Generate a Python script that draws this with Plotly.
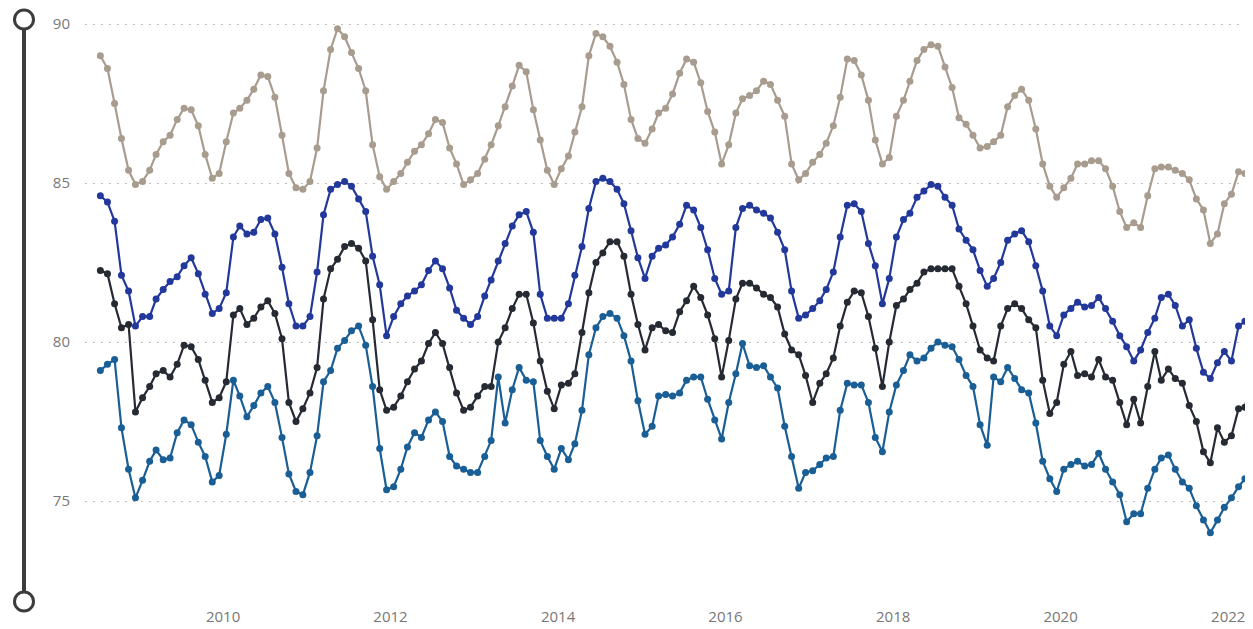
import pandas as pd
import plotly.graph_objects as go

# monthly readings, mid-month, Jul 2008 .. Apr 2022
months = pd.date_range("2008-07-01", periods=166, freq="MS") + pd.Timedelta(days=14)

tan_vals = [
    89.0, 88.6, 87.5, 86.4, 85.4, 84.95, 85.05, 85.4, 85.9, 86.3,
    86.5, 87.0, 87.35, 87.3, 86.8, 85.9, 85.15, 85.3, 86.3, 87.2,
    87.35, 87.6, 87.95, 88.4, 88.35, 87.7, 86.5, 85.3, 84.85, 84.8,
    85.05, 86.1, 87.9, 89.2, 89.85, 89.6, 89.1, 88.6, 87.9, 86.2,
    85.2, 84.8, 85.05, 85.3, 85.65, 86.0, 86.2, 86.55, 87.0, 86.9,
    86.1, 85.6, 84.95, 85.1, 85.3, 85.75, 86.2, 86.8, 87.4, 88.05,
    88.7, 88.5, 87.3, 86.35, 85.4, 84.95, 85.45, 85.85, 86.6, 87.4,
    89.0, 89.7, 89.6, 89.3, 88.8, 88.1, 87.0, 86.4, 86.25, 86.7,
    87.2, 87.35, 87.8, 88.45, 88.9, 88.8, 88.15, 87.25, 86.6, 85.6,
    86.2, 87.2, 87.65, 87.75, 87.9, 88.2, 88.1, 87.6, 87.1, 85.6,
    85.1, 85.3, 85.65, 85.9, 86.25, 86.8, 87.7, 88.9, 88.85, 88.4,
    87.6, 86.35, 85.6, 85.8, 87.1, 87.6, 88.2, 88.85, 89.2, 89.35,
    89.3, 88.65, 88.0, 87.05, 86.85, 86.5, 86.1, 86.15, 86.3, 86.5,
    87.4, 87.75, 87.95, 87.6, 86.7, 85.6, 84.9, 84.55, 84.85, 85.15,
    85.6, 85.6, 85.7, 85.7, 85.45, 84.9, 84.1, 83.6, 83.75, 83.6,
    84.6, 85.45, 85.5, 85.5, 85.4, 85.3, 85.1, 84.5, 84.15, 83.1,
    83.4, 84.35, 84.65, 85.35, 85.3, 85.75,
]

blue_vals = [
    84.6, 84.4, 83.8, 82.1, 81.6, 80.5, 80.8, 80.8, 81.35, 81.65,
    81.9, 82.05, 82.4, 82.65, 82.15, 81.5, 80.9, 81.05, 81.55, 83.3,
    83.65, 83.4, 83.45, 83.85, 83.9, 83.4, 82.35, 81.2, 80.5, 80.5,
    80.8, 82.2, 84.0, 84.8, 84.95, 85.05, 84.9, 84.5, 84.1, 82.7,
    81.8, 80.2, 80.8, 81.2, 81.45, 81.6, 81.8, 82.25, 82.55, 82.3,
    81.7, 81.0, 80.75, 80.55, 80.8, 81.45, 81.95, 82.55, 83.1, 83.65,
    84.0, 84.1, 83.45, 81.5, 80.75, 80.75, 80.75, 81.2, 82.1, 83.0,
    84.2, 85.05, 85.15, 85.05, 84.8, 84.35, 83.5, 82.65, 82.0, 82.7,
    82.95, 83.05, 83.3, 83.7, 84.3, 84.15, 83.6, 82.9, 82.0, 81.5,
    81.6, 83.6, 84.2, 84.3, 84.15, 84.05, 83.9, 83.45, 82.9, 81.6,
    80.75, 80.85, 81.05, 81.3, 81.65, 82.2, 83.3, 84.3, 84.35, 84.1,
    83.1, 82.4, 81.2, 82.0, 83.3, 83.85, 84.05, 84.55, 84.75, 84.95,
    84.9, 84.55, 84.3, 83.55, 83.2, 82.9, 82.25, 81.75, 82.0, 82.5,
    83.2, 83.4, 83.5, 83.15, 82.4, 81.6, 80.5, 80.2, 80.85, 81.05,
    81.25, 81.1, 81.15, 81.4, 81.05, 80.65, 80.2, 79.85, 79.4, 79.75,
    80.3, 80.75, 81.4, 81.5, 81.15, 80.5, 80.7, 79.8, 79.05, 78.85,
    79.35, 79.7, 79.4, 80.5, 80.65, 81.0,
]

dark_vals = [
    82.25, 82.15, 81.2, 80.45, 80.55, 77.8, 78.25, 78.6, 79.0, 79.1,
    78.9, 79.3, 79.9, 79.85, 79.45, 78.8, 78.1, 78.25, 78.75, 80.85,
    81.05, 80.55, 80.75, 81.1, 81.3, 80.9, 80.1, 78.1, 77.5, 77.9,
    78.4, 79.2, 81.35, 82.3, 82.6, 83.0, 83.1, 82.95, 82.55, 80.7,
    78.5, 77.85, 77.95, 78.3, 78.75, 79.15, 79.4, 79.95, 80.3, 79.95,
    79.2, 78.4, 77.85, 77.95, 78.3, 78.6, 78.6, 80.0, 80.45, 81.05,
    81.5, 81.5, 80.6, 79.4, 78.45, 77.9, 78.65, 78.7, 79.0, 80.3,
    81.55, 82.5, 82.8, 83.15, 83.15, 82.7, 81.5, 80.55, 79.75, 80.45,
    80.55, 80.35, 80.3, 80.95, 81.3, 81.75, 81.4, 80.85, 80.1, 78.9,
    80.05, 81.35, 81.85, 81.85, 81.7, 81.5, 81.4, 81.1, 80.25, 79.75,
    79.6, 78.95, 78.1, 78.7, 79.0, 79.5, 80.5, 81.25, 81.6, 81.55,
    80.8, 79.8, 78.6, 80.0, 81.15, 81.35, 81.65, 81.85, 82.2, 82.3,
    82.3, 82.3, 82.3, 81.75, 81.2, 80.5, 79.75, 79.5, 79.4, 80.5,
    81.05, 81.2, 81.05, 80.7, 80.45, 78.8, 77.75, 78.1, 79.3, 79.7,
    78.95, 79.0, 78.9, 79.45, 78.9, 78.8, 78.1, 77.4, 78.2, 77.45,
    78.6, 79.7, 78.8, 79.15, 78.85, 78.7, 78.0, 77.5, 76.55, 76.2,
    77.3, 76.85, 77.05, 77.9, 77.95, 79.05,
]

teal_vals = [
    79.1, 79.3, 79.45, 77.3, 76.0, 75.1, 75.65, 76.25, 76.6, 76.3,
    76.35, 77.15, 77.55, 77.4, 76.85, 76.4, 75.6, 75.8, 77.1, 78.8,
    78.3, 77.65, 78.0, 78.4, 78.6, 78.1, 77.0, 75.85, 75.3, 75.2,
    75.9, 77.05, 78.75, 79.1, 79.8, 80.05, 80.35, 80.5, 79.9, 78.6,
    76.65, 75.35, 75.45, 76.0, 76.7, 77.15, 77.0, 77.55, 77.8, 77.5,
    76.4, 76.1, 76.0, 75.9, 75.9, 76.4, 76.9, 78.9, 77.45, 78.5,
    79.2, 78.8, 78.75, 76.9, 76.4, 76.0, 76.65, 76.3, 76.8, 77.85,
    79.6, 80.45, 80.8, 80.9, 80.75, 80.2, 79.4, 78.15, 77.1, 77.35,
    78.3, 78.35, 78.3, 78.4, 78.8, 78.9, 78.9, 78.2, 77.55, 76.95,
    78.1, 79.0, 79.95, 79.25, 79.2, 79.25, 78.9, 78.55, 77.35, 76.4,
    75.4, 75.9, 75.95, 76.15, 76.35, 76.4, 77.85, 78.7, 78.65, 78.65,
    78.1, 77.0, 76.55, 77.8, 78.65, 79.1, 79.6, 79.4, 79.5, 79.8,
    80.0, 79.9, 79.85, 79.45, 78.95, 78.6, 77.4, 76.75, 78.9, 78.75,
    79.2, 78.85, 78.5, 78.4, 77.45, 76.25, 75.7, 75.3, 76.0, 76.15,
    76.25, 76.1, 76.15, 76.5, 76.0, 75.6, 75.2, 74.35, 74.6, 74.6,
    75.4, 76.0, 76.35, 76.45, 76.0, 75.6, 75.4, 74.85, 74.4, 74.0,
    74.4, 74.8, 75.1, 75.45, 75.7, 75.85,
]

y_ticks = [75, 80, 85, 90]

series = [
    (tan_vals, "#A89C8E"),
    (blue_vals, "#22399B"),
    (dark_vals, "#262A33"),
    (teal_vals, "#1A5E96"),
]

fig = go.Figure()
for vals, col in series:
    fig.add_trace(go.Scatter(
        x=months, y=vals, mode="lines+markers",
        line=dict(color=col, width=2.2),
        marker=dict(color=col, size=7),
        showlegend=False,
    ))

# page has an 8px body margin, so the figure is 8px smaller than the window
fig.update_layout(
    width=1245, height=621,
    margin=dict(l=77, r=0, t=0, b=29),
    paper_bgcolor="white", plot_bgcolor="white",
    font=dict(family="Segoe UI, Open Sans, sans-serif", size=15, color="#777777"),
)
fig.update_xaxes(
    range=["2008-05-09", "2022-04-19"],
    tick0="2010-01-01", dtick="M24", tickformat="%Y",
    showgrid=False, zeroline=False, showline=False, ticks="",
    ticklabelstandoff=6,
)
fig.update_yaxes(
    range=[71.887, 90.503],
    tickvals=y_ticks,
    showgrid=True, gridcolor="#BDBDBD", griddash="2px,6px", gridwidth=1,
    zeroline=False, showline=False, ticks="",
    ticklabelstandoff=14,
)

# vertical range slider on the left
sx = (24 - 85) / 1168
top_y = (600 - 19.5) / 592
bot_y = (600 - 601.5) / 592
fig.add_shape(type="line", xref="paper", yref="paper",
              x0=sx, x1=sx, y0=bot_y, y1=top_y,
              line=dict(color="#3C3C3C", width=4))
for yy in (top_y, bot_y):
    fig.add_shape(type="circle", xref="paper", yref="paper",
                  xsizemode="pixel", ysizemode="pixel",
                  xanchor=sx, yanchor=yy,
                  x0=-9.5, x1=9.5, y0=-9.5, y1=9.5,
                  fillcolor="white", line=dict(color="#3C3C3C", width=3))

fig.write_html("out.html")
